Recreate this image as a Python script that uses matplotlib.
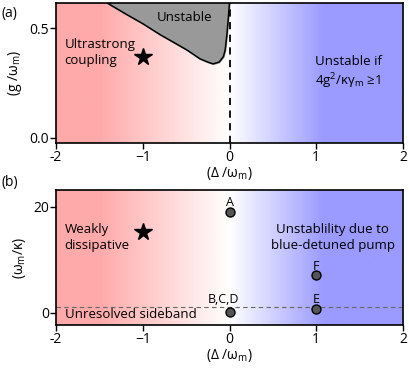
import numpy as np
import matplotlib
matplotlib.use('Agg')
import matplotlib.pyplot as plt
from matplotlib.colors import LinearSegmentedColormap

# data
delta_ticks = [-2, -1, 0, 1, 2]
g_ticks = [0.0, 0.5]
wk_ticks = [0, 20]

# boundary of the unstable region in panel (a)
unstable_delta = [-1.41, -1.2, -1.0, -0.8, -0.6, -0.49, -0.34, -0.25, -0.19, -0.12, -0.07, -0.05, -0.03, -0.015, 0.0]
unstable_g = [0.614, 0.565, 0.52, 0.47, 0.425, 0.40, 0.36, 0.345, 0.337, 0.345, 0.37, 0.40, 0.47, 0.54, 0.614]

star_a = (-1.0, 0.37)
star_b = (-1.0, 15.3)

point_names = ['A', 'B,C,D', 'E', 'F']
point_delta = [0, 0, 1, 1]
point_wk = [19.0, 0.2, 0.7, 7.2]

sideband_level = 1.1

plt.rcParams['font.family'] = ['Open Sans', 'DejaVu Sans']
plt.rcParams['mathtext.fontset'] = 'custom'
plt.rcParams['mathtext.rm'] = 'Open Sans'
plt.rcParams['mathtext.it'] = 'Open Sans:italic'
plt.rcParams['font.size'] = 9

fig = plt.figure(figsize=(4.09, 3.69), dpi=100)

# background gradient red -> white -> blue along detuning
cmap = LinearSegmentedColormap.from_list('rb', [(0.0, '#FFAAAA'), (0.125, '#FFAAAA'), (0.5, '#FFFFFF'),
                                                (0.775, '#9A9AFF'), (1.0, '#9A9AFF')])
grad = np.linspace(-2, 2, 400).reshape(1, -1)


def style_axes(ax, ylim, yticks, yticklabels, ylabel):
    ax.imshow(grad, cmap=cmap, extent=[-2, 2, ylim[0], ylim[1]], aspect='auto', zorder=0, vmin=-2, vmax=2)
    ax.set_xlim(-2, 2)
    ax.set_ylim(*ylim)
    ax.set_xticks(delta_ticks)
    ax.set_xticklabels(['-2', '\u22121', '0', '1', '2'])
    ax.set_yticks(yticks)
    ax.set_yticklabels(yticklabels)
    ax.tick_params(direction='out', length=4, width=1, labelsize=10, pad=1)
    for sp in ax.spines.values():
        sp.set_linewidth(1.2)
    ax.set_xlabel('(\u0394 /\u03c9$_\\mathrm{m}$)', fontsize=10, labelpad=0)
    ax.set_ylabel(ylabel, fontsize=10, labelpad=4)


# ---------- panel (a) ----------
ax1 = fig.add_axes([56 / 409, 1 - 143 / 369, 347 / 409, 140 / 369])
style_axes(ax1, (-0.023, 0.614), g_ticks, ['0.0', '0.5'], '(g /\u03c9$_\\mathrm{m}$)')
ax1.fill_between(unstable_delta, unstable_g, 0.614, color='#999999', zorder=2)
ax1.plot(unstable_delta, unstable_g, color='black', lw=1.1, zorder=3)
ax1.axvline(0, color='black', ls=(0, (4, 3)), lw=1.3, zorder=3)
ax1.plot(*star_a, marker='*', color='black', markersize=13, zorder=4)
ax1.text(-0.52, 0.55, 'Unstable', ha='center', va='center', fontsize=9.5, zorder=4)
ax1.text(-1.9, 0.39, 'Ultrastrong\ncoupling', ha='left', va='center', fontsize=9.5, linespacing=1.3)
ax1.text(0.985, 0.295, 'Unstable if\n4g$^2$/\u03ba\u03b3$_\\mathrm{m}$ \u22651', ha='left', va='center',
         fontsize=9.5, linespacing=1.3)

# ---------- panel (b) ----------
ax2 = fig.add_axes([56 / 409, 1 - 325 / 369, 347 / 409, 135 / 369])
style_axes(ax2, (-2.3, 23.2), wk_ticks, ['0', '20'], '(\u03c9$_\\mathrm{m}$/\u03ba)')
ax2.axhline(sideband_level, color='#666666', ls=(0, (4, 3)), lw=0.8, zorder=2)
ax2.plot(*star_b, marker='*', color='black', markersize=13, zorder=4)
ax2.scatter(point_delta, point_wk, s=42, color='#555555', edgecolor='black', linewidth=1, zorder=4)
label_offsets = {'A': (0, 1.8), 'B,C,D': (-0.07, 2.3), 'E': (0, 1.8), 'F': (0, 1.5)}
for name, dx, wy in zip(point_names, point_delta, point_wk):
    ox, oy = label_offsets[name]
    ax2.text(dx + ox, wy + oy, name, ha='center', va='center', fontsize=9, zorder=4)
ax2.text(-1.9, 14.2, 'Weakly\ndissipative', ha='left', va='center', fontsize=9.5, linespacing=1.3)
ax2.text(-1.9, -0.3, 'Unresolved sideband', ha='left', va='center', fontsize=9.5)
ax2.text(1.19, 14.3, 'Unstablility due to\nblue-detuned pump', ha='center', va='center',
         fontsize=9.5, linespacing=1.3)

fig.text(2 / 409, 1 - 13 / 369, '(a)', ha='left', va='center', fontsize=10)
fig.text(2 / 409, 1 - 183 / 369, '(b)', ha='left', va='center', fontsize=10)

fig.savefig('out.png', dpi=100)
